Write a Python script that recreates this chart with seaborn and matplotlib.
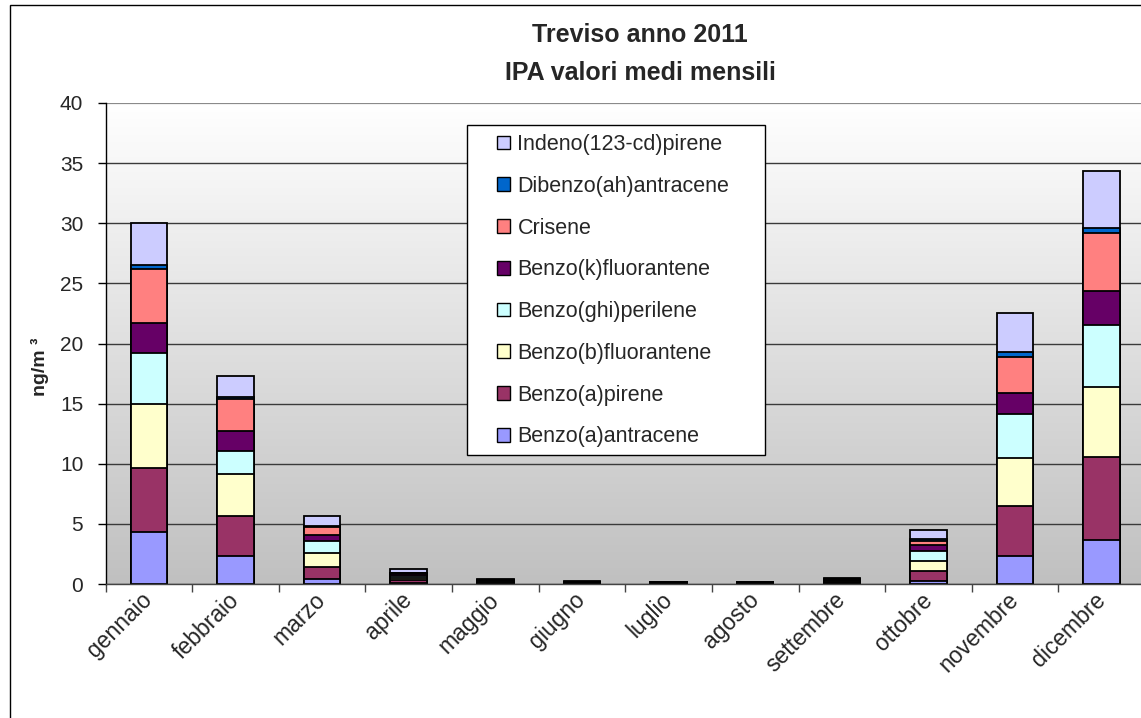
import numpy as np
import pandas as pd
import matplotlib
matplotlib.use("Agg")
import matplotlib.pyplot as plt
import seaborn as sns
from matplotlib.patches import Patch, Rectangle
from matplotlib.colors import LinearSegmentedColormap

sns.set_style("white")
plt.rcParams["font.family"] = ["Liberation Sans", "DejaVu Sans"]

# Mesi e concentrazioni medie mensili (ng/m3) dei singoli IPA
mesi = ["gennaio", "febbraio", "marzo", "aprile", "maggio", "giugno",
        "luglio", "agosto", "settembre", "ottobre", "novembre", "dicembre"]

benzo_a_antracene    = [4.35, 2.33, 0.45, 0.12, 0.04, 0.02, 0.02, 0.02, 0.05, 0.27, 2.33, 3.66]
benzo_a_pirene       = [5.32, 3.35, 1.00, 0.20, 0.06, 0.03, 0.03, 0.03, 0.08, 0.83, 4.16, 6.93]
benzo_b_fluorantene  = [5.27, 3.44, 1.13, 0.20, 0.06, 0.04, 0.03, 0.03, 0.08, 0.81, 3.96, 5.81]
benzo_ghi_perilene   = [4.27, 1.97, 1.02, 0.18, 0.06, 0.03, 0.03, 0.03, 0.08, 0.86, 3.66, 5.10]
benzo_k_fluorantene  = [2.50, 1.66, 0.47, 0.10, 0.03, 0.02, 0.02, 0.02, 0.04, 0.45, 1.80, 2.90]
crisene              = [4.50, 2.63, 0.64, 0.12, 0.05, 0.03, 0.03, 0.02, 0.06, 0.36, 3.00, 4.82]
dibenzo_ah_antracene = [0.30, 0.20, 0.10, 0.03, 0.01, 0.01, 0.01, 0.01, 0.01, 0.19, 0.37, 0.36]
indeno_pirene        = [3.50, 1.72, 0.87, 0.27, 0.08, 0.04, 0.03, 0.04, 0.10, 0.72, 3.29, 4.74]

composti = ["Benzo(a)antracene", "Benzo(a)pirene", "Benzo(b)fluorantene",
            "Benzo(ghi)perilene", "Benzo(k)fluorantene", "Crisene",
            "Dibenzo(ah)antracene", "Indeno(123-cd)pirene"]
serie = [benzo_a_antracene, benzo_a_pirene, benzo_b_fluorantene,
         benzo_ghi_perilene, benzo_k_fluorantene, crisene,
         dibenzo_ah_antracene, indeno_pirene]
colori = ["#9999FF", "#993366", "#FFFFCC", "#CCFFFF",
          "#660066", "#FF8080", "#0066CC", "#CCCCFF"]

df = pd.DataFrame(dict(zip(composti, serie)), index=mesi)
cumulato = df.cumsum(axis=1)

W, H = 1141, 718
fig = plt.figure(figsize=(W / 100, H / 100), dpi=100)
fig.patch.set_facecolor("white")

ax = fig.add_axes([105.5 / W, 1 - 584 / H, (1145 - 105.5) / W, (584 - 103) / H])

# sfondo sfumato dell'area del grafico
grad = np.linspace(0, 1, 256).reshape(-1, 1)
cmap = LinearSegmentedColormap.from_list("sfondo", ["#FFFFFF", "#C0C0C0"])
ax.imshow(grad, extent=[0, 1, 0, 1], transform=ax.transAxes, cmap=cmap,
          aspect="auto", zorder=0, origin="upper")

# barre impilate: si disegna dal cumulato più alto al più basso
for nome, col in zip(reversed(composti), reversed(colori)):
    sns.barplot(x=mesi, y=cumulato[nome].values, order=mesi, color=col,
                saturation=1, width=0.42, edgecolor="black", linewidth=1.3,
                errorbar=None, ax=ax, zorder=2)

ax.set_xlim(-0.5, 11.5)
ax.set_ylim(0, 40)
ax.set_yticks(np.arange(0, 41, 5))
ax.yaxis.grid(True, color="#3a3a3a", linewidth=1.0)
ax.xaxis.grid(False)
ax.set_axisbelow(True)
ax.get_ygridlines()[-1].set_color("#8a8a8a")
ax.get_ygridlines()[-1].set_linewidth(1.6)

ax.tick_params(axis="y", direction="out", length=6, width=1, pad=10,
               labelsize=15, color="black", left=True)
ax.set_xticks(range(len(mesi)))
ax.set_xticklabels(mesi)
ax.set_xticks(np.arange(-0.5, len(mesi), 1), minor=True)
ax.tick_params(axis="x", which="major", length=0, pad=9, labelsize=16.5)
ax.tick_params(axis="x", which="minor", direction="out", length=6,
               width=1, color="#444444", bottom=True)
for lbl in ax.get_xticklabels():
    lbl.set_rotation(45)
    lbl.set_ha("right")
    lbl.set_va("center")
    lbl.set_rotation_mode("anchor")

ax.set_xlabel("")
ax.set_ylabel("")
for s in ["top", "right"]:
    ax.spines[s].set_visible(False)
ax.spines["left"].set_color("black")
ax.spines["left"].set_linewidth(1.0)
ax.spines["bottom"].set_color("#444444")
ax.spines["bottom"].set_linewidth(1.0)

# cornice esterna del grafico
fig.patches.append(Rectangle((10 / W, -0.2), 2, 1 - 5 / H + 0.2,
                             transform=fig.transFigure, fill=False,
                             edgecolor="black", linewidth=1.0))

# titolo
fig.text(640 / W, 1 - 35 / H, "Treviso anno 2011", ha="center", va="center",
         fontsize=18, fontweight="bold")
fig.text(640 / W, 1 - 73 / H, "IPA valori medi mensili", ha="center",
         va="center", fontsize=18, fontweight="bold")

# etichetta asse y
fig.text(40 / W, 1 - 367 / H, "ng/m ³", rotation=90, ha="center",
         va="center", fontsize=14, fontweight="bold")

# legenda in un riquadro bianco
fig.patches.append(Rectangle((467 / W, 1 - 455 / H), (765 - 467) / W,
                             (455 - 125) / H, transform=fig.transFigure,
                             facecolor="white", edgecolor="black",
                             linewidth=1.0, zorder=5))
handles = [Patch(facecolor=c, edgecolor="black", linewidth=1.0)
           for c in reversed(colori)]
leg = fig.legend(handles, list(reversed(composti)), loc="upper left",
                 bbox_to_anchor=(497 / W, 1 - 134 / H), frameon=False,
                 fontsize=15.5, handlelength=0.6, handleheight=0.6,
                 handletextpad=0.35, labelspacing=0.965, borderpad=0,
                 borderaxespad=0)
leg.set_zorder(6)

fig.savefig("out.png", dpi=100)
